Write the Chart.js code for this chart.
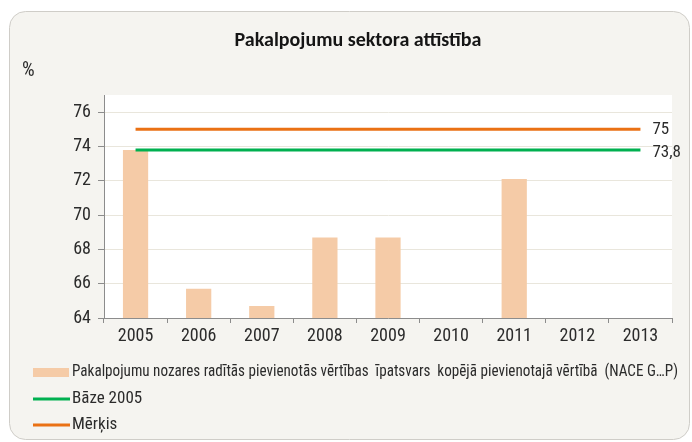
<!DOCTYPE html>
<html>
<head>
<meta charset="utf-8">
<script src="https://cdn.jsdelivr.net/npm/chart.js@4.4.1/dist/chart.umd.min.js"></script>
<style>
  html, body { margin: 0; padding: 0; background: #ffffff; }
  #wrap { width: 692px; height: 442px; }
</style>
</head>
<body>
<div id="wrap"><canvas id="sektors" width="692" height="442"></canvas></div>
<script>
// Chart values
var years = ["2005", "2006", "2007", "2008", "2009", "2010", "2011", "2012", "2013"];
var shareValues = [73.8, 65.7, 64.7, 68.7, 68.7, null, 72.1, null, null];
var baseValues = [73.8, 73.8, 73.8, 73.8, 73.8, 73.8, 73.8, 73.8, 73.8];
var targetValues = [75, 75, 75, 75, 75, 75, 75, 75, 75];
var seriesNames = [
  "Pakalpojumu nozares radītās pievienotās vērtības  īpatsvars  kopējā pievienotajā vērtībā  (NACE G…P)",
  "Bāze 2005",
  "Mērķis"
];
var chartTitle = "Pakalpojumu sektora attīstība";
var unitLabel = "%";

var narrow = "'Roboto Condensed', 'Liberation Sans', sans-serif";
var textColor = "#2b2b2b";

// panel, plot background, title, unit, end labels and legend
var decor = {
  id: "decor",
  beforeDraw: function(chart) {
    var c = chart.ctx, a = chart.chartArea;
    c.save();
    c.fillStyle = "#ffffff";
    c.fillRect(0, 0, chart.width, chart.height);
    c.beginPath();
    c.roundRect(9.5, 11.5, 680, 428, 16);
    c.fillStyle = "#f5f4f0";
    c.fill();
    c.strokeStyle = "#cfcdc8";
    c.lineWidth = 1;
    c.stroke();
    c.fillStyle = "#ffffff";
    c.fillRect(a.left, a.top, a.right - a.left, a.bottom - a.top);
    c.restore();
  },
  afterDraw: function(chart) {
    var c = chart.ctx;
    c.save();
    c.fillStyle = "#151515";
    c.textAlign = "center";
    c.textBaseline = "middle";
    c.font = "bold 20px Carlito, 'Noto Sans', sans-serif";
    c.fillText(chartTitle, 358, 41);

    c.fillStyle = textColor;
    c.textAlign = "left";
    c.font = "20px " + narrow;
    c.fillText(unitLabel, 22, 71);

    // value labels at the end of the two reference lines
    c.font = "17px " + narrow;
    [1, 2].forEach(function(i) {
      var pts = chart.getDatasetMeta(i).data;
      var last = pts[pts.length - 1];
      var v = chart.data.datasets[i].data[pts.length - 1];
      c.fillText(String(v).replace(".", ","), last.x + 12, last.y + (i === 1 ? 3 : 0));
    });

    // legend, one series per row
    var rows = [372, 399, 425];
    c.font = "17px " + narrow;
    chart.data.datasets.forEach(function(ds, i) {
      var y = rows[i];
      if (ds.type === "line") {
        c.strokeStyle = ds.borderColor;
        c.lineWidth = 3;
        c.beginPath();
        c.moveTo(33, y);
        c.lineTo(70, y);
        c.stroke();
      } else {
        c.fillStyle = ds.backgroundColor;
        c.fillRect(33, y - 4, 36, 9);
      }
      c.fillStyle = textColor;
      c.fillText(ds.label, 72, y, 606);
    });
    c.restore();
  }
};

new Chart(document.getElementById("sektors").getContext("2d"), {
  data: {
    labels: years,
    datasets: [{
      type: "bar",
      label: seriesNames[0],
      data: shareValues,
      backgroundColor: "#f5cba7",
      categoryPercentage: 1,
      barPercentage: 0.4,
      order: 3
    }, {
      type: "line",
      label: seriesNames[1],
      data: baseValues,
      borderColor: "#00b050",
      borderWidth: 3,
      pointRadius: 0,
      order: 2
    }, {
      type: "line",
      label: seriesNames[2],
      data: targetValues,
      borderColor: "#ea7114",
      borderWidth: 3,
      pointRadius: 0,
      order: 1
    }]
  },
  options: {
    responsive: false,
    animation: false,
    layout: { padding: { left: 0, right: 20, top: 95, bottom: 94 } },
    plugins: {
      legend: { display: false },
      title: { display: false },
      tooltip: { enabled: false }
    },
    scales: {
      x: {
        offset: true,
        grid: { offset: true, drawOnChartArea: false, tickLength: 5, tickColor: "#8c8c8c" },
        border: { color: "#8c8c8c" },
        ticks: { color: textColor, font: { family: narrow, size: 18 }, padding: 3, maxRotation: 0 },
        afterFit: function(s) { s.height = 30; }
      },
      y: {
        min: 64,
        max: 77,
        grid: { color: "#e9e6dc", tickLength: 6, tickColor: "#8c8c8c" },
        border: { color: "#8c8c8c" },
        ticks: { stepSize: 2, includeBounds: false, color: textColor, font: { family: narrow, size: 18 }, padding: 7 },
        afterFit: function(s) { s.width = 104; }
      }
    }
  },
  plugins: [decor]
});
</script>
</body>
</html>
